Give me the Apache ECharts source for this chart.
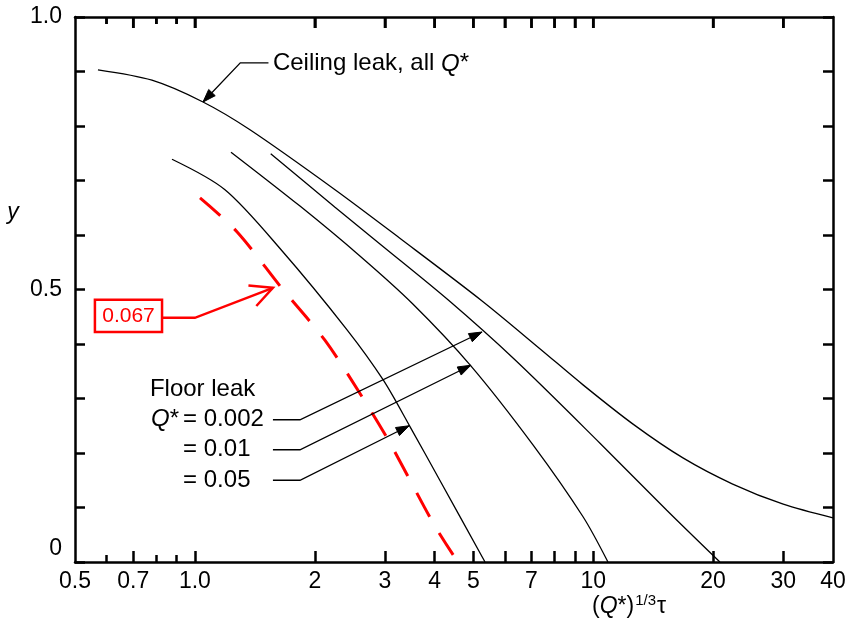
<!DOCTYPE html>
<html>
<head>
<meta charset="utf-8">
<script src="https://cdn.jsdelivr.net/npm/echarts@6/dist/echarts.min.js"></script>
<style>
  html, body { margin: 0; background: #fff; }
  #chart { width: 846px; height: 625px; }
</style>
</head>
<body>
<div id="chart"></div>
<script>
// curves: [(Q*)^1/3 tau, y]
const ceilingLeak = [[0.571, 0.903], [0.78, 0.884], [1.048, 0.844], [1.375, 0.793], [2.248, 0.683], [3.27, 0.594],
  [5.26, 0.479], [7.36, 0.391], [9.43, 0.325], [12.59, 0.253], [16.8, 0.191], [22.4, 0.143], [30.0, 0.106], [40, 0.081]]
const floor0002 = [[1.55, 0.749], [2.248, 0.651], [2.92, 0.583], [4.32, 0.481], [6.36, 0.371], [10.4, 0.218], [15.3, 0.095], [20.8, 0]]
const floor001 = [[1.232, 0.752], [1.836, 0.653], [2.6, 0.561], [3.53, 0.473], [4.93, 0.36], [7.06, 0.215], [9.43, 0.083], [10.89, 0]]
const floor005 = [[0.876, 0.739], [1.19, 0.683], [1.65, 0.572], [2.41, 0.426], [2.97, 0.334], [3.47, 0.248], [4.12, 0.15], [5.35, 0]]
const floor0067 = [[1.03, 0.668], [1.275, 0.606], [1.65, 0.503], [2.12, 0.407], [2.64, 0.301], [3.09, 0.218], [3.96, 0.072], [4.45, 0.013]]

const xTickMajor = [0.7, 1, 2, 3, 4, 5, 6, 7, 8, 9, 10, 20, 30]
const xTickMinor = [0.6, 0.8, 0.9]
const xLabels = [0.5, 0.7, 1, 2, 3, 4, 5, 7, 10, 20, 30, 40]
const yLabels = { 0: '{z|0}', 0.5: '0.5', 1: '1.0' }

// annotation anchors, in data units
const ceilingNote = { at: [1.57, 0.914], path: [[1.53, 0.916], [1.30, 0.916], [1.048, 0.844]] }
const floorNotes = [
  { label: '= 0.002', at: [0.934, 0.261], path: [[1.57, 0.261], [1.836, 0.261], [5.26, 0.422]] },
  { label: '= 0.01', at: [0.934, 0.206], path: [[1.57, 0.206], [1.836, 0.206], [4.93, 0.361]] },
  { label: '= 0.05', at: [0.934, 0.150], path: [[1.57, 0.150], [1.836, 0.150], [3.45, 0.250]] },
]
const floorTitleAt = [0.771, 0.316]
const qStarAt = [0.912, 0.261]
const redNote = { label: '0.067', box: [[0.561, 0.481], [0.827, 0.422]], path: [[0.827, 0.448], [1.0, 0.448], [1.57, 0.503]] }

const font = '"Liberation Sans", Arial, Helvetica, sans-serif'
const chart = echarts.init(document.getElementById('chart'))

function fmtX(v) {
  const r = Math.round(v * 100) / 100
  return r === 1 ? '1.0' : String(r)
}

function fmtY(v) {
  const key = Object.keys(yLabels).find((k) => Math.abs(Number(k) - v) < 1e-6)
  return key === undefined ? '' : yLabels[key]
}

const axisStroke = { color: '#000', width: 2.5 }

function xAxis(position, ticks, len, showLine, labels) {
  return {
    type: 'log',
    logBase: 10,
    min: 0.5,
    max: 40,
    position,
    axisLine: { show: showLine, onZero: false, lineStyle: axisStroke },
    axisTick: { show: true, inside: true, length: len, customValues: ticks.slice(), lineStyle: axisStroke },
    axisLabel: labels
      ? { show: true, customValues: xLabels.slice(), formatter: fmtX, color: '#000', fontSize: 23, fontFamily: font, margin: 8 }
      : { show: false },
    splitLine: { show: false },
  }
}

function yAxis(position, labels) {
  return {
    type: 'value', min: 0, max: 1, interval: 0.1, position,
    axisLine: { show: true, onZero: false, lineStyle: axisStroke },
    axisTick: { inside: true, length: 10, lineStyle: axisStroke },
    axisLabel: {
      show: labels, formatter: fmtY, color: '#000', fontSize: 23, fontFamily: font, margin: 13,
      rich: { z: { fontSize: 23, fontFamily: font, color: '#000', padding: [0, 0, 26, 0] } },
    },
    splitLine: { show: false },
  }
}

function lineSeries(data, color, width, type) {
  return {
    type: 'line',
    data,
    smooth: 0.3,
    showSymbol: false,
    silent: true,
    lineStyle: { color, width, type },
  }
}

chart.setOption({
  animation: false,
  grid: { left: 75, top: 17, right: 13, bottom: 63, outerBoundsMode: 'none' },
  xAxis: [
    xAxis('bottom', xTickMajor, 11, true, true),
    xAxis('bottom', xTickMinor, 7, false, false),
    xAxis('top', xTickMajor, 11, true, false),
    xAxis('top', xTickMinor, 7, false, false),
  ],
  yAxis: [yAxis('left', true), yAxis('right', false)],
  series: [
    lineSeries(ceilingLeak, '#000', 1.3, 'solid'),
    lineSeries(floor0002, '#000', 1.3, 'solid'),
    lineSeries(floor001, '#000', 1.3, 'solid'),
    lineSeries(floor005, '#000', 1.3, 'solid'),
    lineSeries(floor0067, '#ff0000', 3, [27, 19]),
  ],
})

function px(p) {
  return chart.convertToPixel({ xAxisIndex: 0, yAxisIndex: 0 }, p)
}

function arrowHead(path, len, half) {
  const a = path[path.length - 2]
  const b = path[path.length - 1]
  const dx = b[0] - a[0]
  const dy = b[1] - a[1]
  const d = Math.hypot(dx, dy)
  const ux = dx / d
  const uy = dy / d
  const base = [b[0] - ux * len, b[1] - uy * len]
  return [[base[0] - uy * half, base[1] + ux * half], b, [base[0] + uy * half, base[1] - ux * half]]
}

function leader(points, color, width, filled) {
  const pts = points.map(px)
  const out = [{ type: 'polyline', z: 20, shape: { points: pts }, style: { stroke: color, lineWidth: width, fill: null } }]
  if (filled) {
    out.push({ type: 'polygon', z: 20, shape: { points: arrowHead(pts, 13, 4.5) }, style: { fill: color, stroke: color, lineWidth: 1 } })
  } else {
    out.push({ type: 'polyline', z: 20, shape: { points: arrowHead(pts, 22, 11) }, style: { stroke: color, lineWidth: width, fill: null } })
  }
  return out
}

function label(at, text, align, extra) {
  const p = px(at)
  return {
    type: 'text', z: 20, x: p[0], y: p[1],
    style: Object.assign({
      text, fill: '#000', font: `24px ${font}`, align, verticalAlign: 'middle',
      rich: {
        n: { fontSize: 24, fontFamily: font, fill: '#000' },
        i: { fontSize: 24, fontFamily: font, fontStyle: 'italic', fill: '#000' },
      },
    }, extra || {}),
  }
}

// tick marks hanging down from the top frame, placed through the x scale
const topY = chart.convertToPixel({ yAxisIndex: 0 }, 1)
function topTick(v, len) {
  const x = chart.convertToPixel({ xAxisIndex: 0 }, v)
  return {
    type: 'line', z: 100,
    shape: { x1: x, y1: topY, x2: x, y2: topY + len },
    style: { stroke: '#000', lineWidth: 2.5 },
  }
}

const graphics = []
graphics.push(...leader(ceilingNote.path, '#000', 1.3, true))
graphics.push(label(ceilingNote.at, '{n|Ceiling leak, all }{i|Q}{n|*}', 'left'))
graphics.push(label(floorTitleAt, 'Floor leak', 'left'))
graphics.push(label(qStarAt, '{i|Q}{n|*}', 'right'))
floorNotes.forEach((note) => {
  graphics.push(...leader(note.path, '#000', 1.3, true))
  graphics.push(label(note.at, note.label, 'left'))
})

const b0 = px(redNote.box[0])
const b1 = px(redNote.box[1])
graphics.push({
  type: 'rect', z: 20,
  shape: { x: b0[0], y: b0[1], width: b1[0] - b0[0], height: b1[1] - b0[1] },
  style: { fill: '#fff', stroke: '#ff0000', lineWidth: 2.5 },
})
graphics.push(label([Math.sqrt(redNote.box[0][0] * redNote.box[1][0]), (redNote.box[0][1] + redNote.box[1][1]) / 2],
  redNote.label, 'center', { fill: '#ff0000', font: `21px ${font}` }))
graphics.push(...leader(redNote.path, '#ff0000', 2.5, false))

// axis titles
graphics.push({
  type: 'text', z: 20, x: 13, y: 213,
  style: { text: 'y', font: `italic 23px ${font}`, fill: '#000', align: 'center', verticalAlign: 'middle' },
})
graphics.push({
  type: 'text', z: 20, x: 592, y: 607,
  style: {
    text: '{n|(}{i|Q}{n|*)}{s|1/3}{n|τ}', align: 'left', verticalAlign: 'middle', fill: '#000',
    rich: {
      n: { fontSize: 23, fontFamily: font, fill: '#000' },
      i: { fontSize: 23, fontFamily: font, fontStyle: 'italic', fill: '#000' },
      s: { fontSize: 15, fontFamily: font, fill: '#000', padding: [0, 1, 12, 1] },
    },
  },
})

xTickMajor.forEach((v) => graphics.push(topTick(v, 11)))
xTickMinor.forEach((v) => graphics.push(topTick(v, 7)))

chart.setOption({ graphic: graphics })
</script>
</body>
</html>
